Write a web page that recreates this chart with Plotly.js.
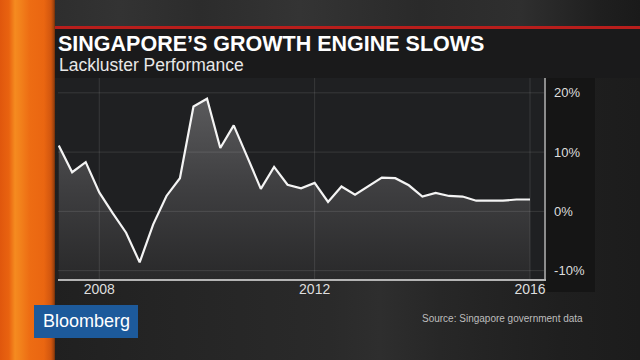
<!DOCTYPE html>
<html>
<head>
<meta charset="utf-8">
<script src="https://cdn.plot.ly/plotly-3.0.1.min.js"></script>
<style>
  html, body { margin:0; padding:0; width:640px; height:360px; overflow:hidden;
    background: linear-gradient(to right, #1e1e1e 0px, #242424 150px, #2a2a2a 330px, #2e2e2e 380px, #272727 440px, #1f1f1f 560px, #1c1c1c 640px); }
  .bg { position:absolute; }
  #studio { left:0; top:0; width:640px; height:27px;
    background: linear-gradient(to right, #2a2a2a 0px, #333 120px, #2c2c2c 200px, #343434 300px, #2a2a2a 420px, #2f2f2f 520px, #1f1f1f 600px, #1a1a1a 640px); }
  #redline { left:55px; top:26px; width:585px; height:2.5px; background:#b81e1c; }
  #titlebox { left:55px; top:28.5px; width:585px; height:49.5px; background:#1a1a1b; }
  #rightpanel { left:544px; top:78px; width:51px; height:214px; background:#151515; }
  #orange { left:0; top:0; width:55px; height:360px;
    background: linear-gradient(to right, #e0570d 0px, #e96310 9px, #f58b20 15px, #f2801b 21px, #ed6c13 30px, #ea6611 44px, #d1560f 51px, #9a400c 54px, #6a2c0a 55px); }
  #logo { left:34px; top:305px; width:104px; height:33px; background:#1d5a9b; }
  #chart { position:absolute; left:0; top:0; width:640px; height:360px; }
</style>
</head>
<body>
<div class="bg" id="studio"></div>
<div class="bg" id="redline"></div>
<div class="bg" id="titlebox"></div>
<div class="bg" id="rightpanel"></div>
<div class="bg" id="orange"></div>
<div class="bg" id="logo"></div>
<div id="chart"></div>
<script>
// ---- data (quarterly, year-on-year growth %) ----
const quarters = [
  '2007-04-01','2007-07-01','2007-10-01','2008-01-01',
  '2008-04-01','2008-07-01','2008-10-01','2009-01-01',
  '2009-04-01','2009-07-01','2009-10-01','2010-01-01',
  '2010-04-01','2010-07-01','2010-10-01','2011-01-01',
  '2011-04-01','2011-07-01','2011-10-01','2012-01-01',
  '2012-04-01','2012-07-01','2012-10-01','2013-01-01',
  '2013-04-01','2013-07-01','2013-10-01','2014-01-01',
  '2014-04-01','2014-07-01','2014-10-01','2015-01-01',
  '2015-04-01','2015-07-01','2015-10-01','2016-01-01'
];
const growth = [
  11.1, 6.6, 8.3, 3.2,
  -0.3, -3.6, -8.6, -2.2,
  2.6, 5.6, 17.7, 19.0,
  10.7, 14.5, 9.2, 3.8,
  7.5, 4.5, 3.9, 4.8,
  1.6, 4.2, 2.8, 4.3,
  5.7, 5.6, 4.4, 2.5,
  3.1, 2.6, 2.5, 1.8,
  1.8, 1.8, 2.0, 2.0
];
const yTickVals = [-10, 0, 10, 20];
const yTickText = ['-10%', '0%', '10%', '20%'];
const xTickVals = ['2008-01-01', '2012-01-01', '2016-01-01'];
const xTickText = ['2008', '2012', '2016'];

const titleText = 'SINGAPORE’S GROWTH ENGINE SLOWS';
const subtitleText = 'Lackluster Performance';
const sourceText = 'Source: Singapore government data';
const logoText = 'Bloomberg';

// ---- layout geometry ----
const W = 640, H = 360;
const L = 58, R = 544, T = 78, B = 279.5;
const xRange = ['2007-03-27', '2016-04-05'];
const yRange = [-11.41, 22.5];
const px = p => (p - L) / (R - L);
const py = p => (B - p) / (B - T);

const baseline = quarters.map(() => yRange[0]);

const traces = [
  { x: quarters, y: baseline, type: 'scatter', mode: 'lines',
    line: { width: 0, color: 'rgba(0,0,0,0)' }, hoverinfo: 'skip', showlegend: false },
  { x: quarters, y: growth, type: 'scatter', mode: 'lines', fill: 'tonexty',
    line: { color: '#f4f4f4', width: 2.2 },
    fillgradient: { type: 'vertical', start: yRange[0], stop: 20,
      colorscale: [[0, '#29292a'], [0.5, '#3f3f41'], [1, '#5c5c5e']] },
    fillcolor: '#3d3d3f', showlegend: false }
];

const gridColor = 'rgba(255,255,255,0.11)';
const shapes = [];
yTickVals.forEach(v => shapes.push({ type: 'line', xref: 'paper', yref: 'y', x0: 0, x1: 1, y0: v, y1: v,
  line: { color: gridColor, width: 1 }, layer: 'above' }));
xTickVals.forEach(v => shapes.push({ type: 'line', xref: 'x', yref: 'paper', x0: v, x1: v, y0: 0, y1: 1,
  line: { color: gridColor, width: 1 }, layer: 'above' }));

const layout = {
  width: W, height: H,
  margin: { l: L, r: W - R, t: T, b: H - B, pad: 0 },
  paper_bgcolor: 'rgba(0,0,0,0)',
  plot_bgcolor: '#1f2022',
  showlegend: false,
  font: { family: 'Liberation Sans, Arial, sans-serif', color: '#dcdcdc' },
  title: { text: '<b>' + titleText + '</b>', xref: 'container', yref: 'container',
    x: 58 / W, xanchor: 'left', y: 1 - 43.5 / H, yanchor: 'middle',
    font: { family: 'Liberation Sans, Arial, sans-serif', size: 21.5, color: '#ffffff' } },
  xaxis: {
    type: 'date', range: xRange, showgrid: false, zeroline: false,
    tickmode: 'array', tickvals: xTickVals, ticktext: xTickText,
    ticks: '', showline: true, linecolor: '#b4b4b4', linewidth: 2,
    tickfont: { size: 14, color: '#dedede' }, ticklabelstandoff: -4, fixedrange: true
  },
  yaxis: {
    range: yRange, side: 'right', showgrid: false, zeroline: false,
    tickmode: 'array', tickvals: yTickVals, ticktext: yTickText,
    ticks: '', showline: true, linecolor: '#8c8c8c', linewidth: 1.5,
    tickfont: { size: 13, color: '#dedede' }, ticklabelstandoff: 6, fixedrange: true
  },
  shapes: shapes,
  annotations: [
    { text: subtitleText, xref: 'paper', yref: 'paper', x: px(57), y: py(64.5),
      xanchor: 'left', yanchor: 'middle', showarrow: false,
      font: { family: 'Liberation Sans, Arial, sans-serif', size: 17.5, color: '#e8e8e8' } },
    { text: sourceText, xref: 'paper', yref: 'paper', x: px(420), y: py(319),
      xanchor: 'left', yanchor: 'middle', showarrow: false,
      font: { family: 'Liberation Sans, Arial, sans-serif', size: 10, color: '#bdbdbd' } },
    { text: logoText, xref: 'paper', yref: 'paper', x: px(86), y: py(322),
      xanchor: 'center', yanchor: 'middle', showarrow: false,
      font: { family: 'Liberation Sans, Arial, sans-serif', size: 18, color: '#ffffff' } }
  ]
};

Plotly.newPlot('chart', traces, layout, { staticPlot: true, displayModeBar: false });
</script>
</body>
</html>
